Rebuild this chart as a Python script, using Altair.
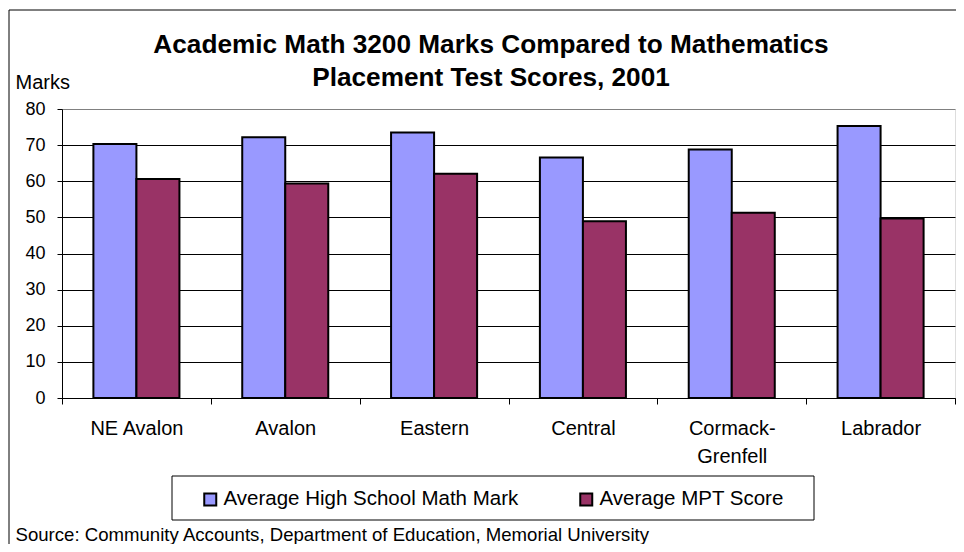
import altair as alt
import pandas as pd

regions = ["NE Avalon", "Avalon", "Eastern", "Central", "Cormack-Grenfell", "Labrador"]
series = ["Average High School Math Mark", "Average MPT Score"]
hs_marks = [70.3, 72.2, 73.5, 66.6, 68.8, 75.3]
mpt_scores = [60.6, 59.4, 62.1, 48.9, 51.3, 49.7]
colors = ["#9999FF", "#993366"]
y_ticks = [0, 10, 20, 30, 40, 50, 60, 70, 80]

title_lines = ["Academic Math 3200 Marks Compared to Mathematics",
               "Placement Test Scores, 2001"]
source_text = "Source: Community Accounts, Department of Education, Memorial University"

rows = []
for i, r in enumerate(regions):
    rows.append({"Region": r, "Series": series[0], "Value": hs_marks[i]})
    rows.append({"Region": r, "Series": series[1], "Value": mpt_scores[i]})
df = pd.DataFrame(rows)

FONT = "Liberation Sans, Arial, sans-serif"

bars = alt.Chart(df).mark_bar(stroke="black", strokeWidth=2).encode(
    x=alt.X("Region:N", sort=regions,
            scale=alt.Scale(paddingInner=0, paddingOuter=0),
            axis=alt.Axis(
                title=source_text,
                titleX=-47, titleY=142, titleAlign="left", titleAnchor="start",
                titleBaseline="alphabetic", titleFontSize=18.6, titleFontWeight="normal",
                titleFont=FONT, titleColor="black",
                labelAngle=0, labelFontSize=20, labelFont=FONT, labelColor="black",
                labelPadding=14, labelLineHeight=28,
                labelExpr="indexof(datum.label, '-') > 0 ? [slice(datum.label, 0, indexof(datum.label, '-') + 1), slice(datum.label, indexof(datum.label, '-') + 1)] : datum.label",
                tickBand="extent", tickSize=6, tickColor="black",
                domainColor="black", domainWidth=1, grid=False)),
    xOffset=alt.XOffset("Series:N", sort=series,
                        scale=alt.Scale(paddingInner=0, paddingOuter=0.73)),
    y=alt.Y("Value:Q", scale=alt.Scale(domain=[0, 80], nice=False),
            axis=alt.Axis(
                values=y_ticks, title="Marks", titleAngle=0, titleX=-47, titleY=-27,
                titleAlign="left", titleBaseline="middle", titleFontSize=20,
                titleFontWeight="normal", titleFont=FONT, titleColor="black",
                labelFontSize=18, labelFont=FONT, labelColor="black", labelPadding=12,
                tickSize=5, tickColor="black", domainColor="black", domainWidth=1,
                grid=True, gridWidth=1,
                gridColor=alt.condition("datum.value === 80", alt.value("#808080"), alt.value("black")))),
    color=alt.Color("Series:N", sort=series,
                    scale=alt.Scale(domain=series, range=colors),
                    legend=alt.Legend(
                        title=None, orient="none", legendX=138, legendY=380,
                        direction="horizontal", symbolType="square", symbolSize=144,
                        symbolStrokeColor="black", symbolStrokeWidth=2, symbolOpacity=1,
                        labelFontSize=20.5, labelFont=FONT, labelColor="black",
                        labelLimit=500, labelOffset=3, columnPadding=57)),
)

one = pd.DataFrame({"k": [0]})
legend_box = alt.Chart(one).mark_rect(fill="white", stroke="black", strokeWidth=1).encode(
    x=alt.value(110), x2=alt.value(752), y=alt.value(367), y2=alt.value(411))
frame_left = alt.Chart(one).mark_rule(color="black", strokeWidth=1).encode(
    x=alt.value(-53), y=alt.value(-99), y2=alt.value(435))
frame_top = alt.Chart(one).mark_rule(color="black", strokeWidth=1).encode(
    x=alt.value(-53), x2=alt.value(894), y=alt.value(-99))
title = alt.Chart(one).mark_text(
    font=FONT, fontSize=26.2, fontWeight="bold", color="black",
    align="center", baseline="middle", lineHeight=33).encode(
    x=alt.value(429), y=alt.value(-64), text=alt.value(title_lines))

chart = alt.layer(frame_left, frame_top, legend_box, title, bars).properties(
    width=893, height=289,
    padding={"left": 54, "top": 101, "right": 1, "bottom": 146},
    autosize=alt.AutoSizeParams(type="none"),
).configure_view(fill="#C0C0C0", stroke="#808080", strokeWidth=2
).configure(background="white")

chart.save("out.html", embed_options={"renderer": "svg", "actions": False})
